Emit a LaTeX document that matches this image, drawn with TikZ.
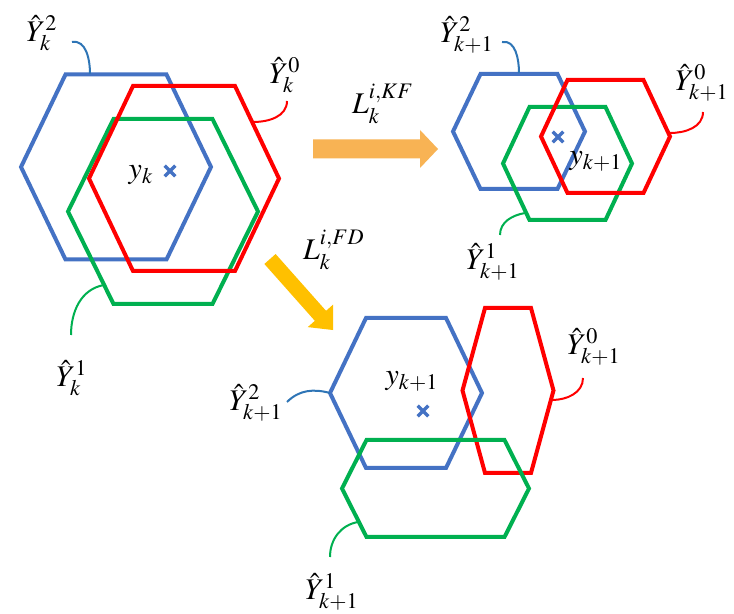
\documentclass[tikz,border=0pt]{standalone}
\usepackage{mathptmx}
\usepackage{tikz}
\usetikzlibrary{shapes.misc, positioning}

\definecolor{hexblue}{HTML}{4472C4}
\definecolor{hexred}{HTML}{FF0000}
\definecolor{hexgreen}{HTML}{00B050}
\definecolor{leadblue}{HTML}{2E75B6}
\definecolor{kforange}{HTML}{F8B354}
\definecolor{fdgold}{HTML}{FFC000}

% centre x, centre y, half width, half top edge, half height, colour
\newcommand{\hexset}[6]{%
  \draw[hex, draw=#6] ({#1-#3},{#2}) -- ({#1-#4},{#2+#5}) -- ({#1+#4},{#2+#5})
    -- ({#1+#3},{#2}) -- ({#1+#4},{#2-#5}) -- ({#1-#4},{#2-#5}) -- cycle;}

\begin{document}
\begin{tikzpicture}[x=0.5pt, y=0.5pt,
    hex/.style={line width=2pt, line join=miter},
    lead/.style={line width=1pt},
    lab/.style={inner sep=0pt, font=\fontsize{15}{18}\selectfont},
    xmark/.style={cross out, draw=hexblue, line width=1.7pt, minimum size=3.6pt, inner sep=0pt}
]
    \useasboundingbox[fill=white] (0,0) rectangle (734,-614);

    % Step k
    \hexset{116}{-167}{95}{50.5}{92.5}{hexblue}
    \hexset{163}{-211.5}{95}{49.5}{92.5}{hexgreen}
    \hexset{184}{-178.5}{95}{51}{92.5}{hexred}
    \node[xmark] (yk) at (170,-171) {};
    \node[lab] (yklab) at (141,-175) {$y_k$};
    \node[lab] (k2) at (42,-33) {$\hat{Y}_k^{2}$};
    \node[lab] (k0) at (285,-75) {$\hat{Y}_k^{0}$};
    \node[lab] (k1) at (72,-378) {$\hat{Y}_k^{1}$};
    \coordinate (k2a) at (72,-42);   \coordinate (k2b) at (90,-74);
    \coordinate (k0a) at (287,-101); \coordinate (k0b) at (253,-122);
    \coordinate (k1a) at (71,-335);  \coordinate (k1b) at (104,-285);
    \draw[lead, leadblue] (k2a) to[out=10, in=90] (k2b);
    \draw[lead, hexred] (k0a) to[out=-90, in=0] (k0b);
    \draw[lead, hexgreen] (k1a) to[out=90, in=190] (k1b);

    % Arrows
    \begin{scope}[shift={(313,-149)}]
        \fill[kforange] (0,9.5) -- (107,9.5) -- (107,19) -- (125,0) -- (107,-19) -- (107,-9.5) -- (0,-9.5) -- cycle;
    \end{scope}
    \begin{scope}[shift={(270,-259)}, rotate=-48.4]
        \fill[fdgold] (0,7.5) -- (76,7.5) -- (76,17) -- (95,0) -- (76,-17) -- (76,-7.5) -- (0,-7.5) -- cycle;
    \end{scope}
    \node[lab] (kf) at (383,-104) {$L_k^{i,KF}$};
    \node[lab] (fd) at (334,-250) {$L_k^{i,FD}$};

    % Step k+1, KF
    \hexset{519}{-131.5}{66}{38.5}{57.5}{hexblue}
    \hexset{567.5}{-163.5}{64.5}{38}{56.5}{hexgreen}
    \hexset{605.5}{-136.5}{64.5}{38}{56.5}{hexred}
    \node[xmark] (ykf) at (558,-137) {};
    \node[lab] (ykflab) at (596,-161) {$y_{k+1}$};
    \node[lab] (f2) at (467,-35) {$\hat{Y}_{k+1}^{2}$};
    \node[lab] (f0) at (702,-83) {$\hat{Y}_{k+1}^{0}$};
    \node[lab] (f1) at (493,-262) {$\hat{Y}_{k+1}^{1}$};
    \coordinate (f2a) at (502,-42);  \coordinate (f2b) at (519,-73);
    \coordinate (f0a) at (703,-112); \coordinate (f0b) at (670,-133);
    \coordinate (f1a) at (500,-235); \coordinate (f1b) at (525,-213);
    \draw[lead, leadblue] (f2a) to[out=10, in=90] (f2b);
    \draw[lead, hexred] (f0a) to[out=-90, in=0] (f0b);
    \draw[lead, hexgreen] (f1a) to[out=90, in=190] (f1b);

    % Step k+1, FD
    \hexset{406}{-393}{76}{40}{75}{hexblue}
    \hexset{508}{-390.5}{45.5}{23}{82.5}{hexred}
    \hexset{435.5}{-488.5}{93.5}{69}{48.5}{hexgreen}
    \node[xmark] (yfd) at (423,-411) {};
    \node[lab] (yfdlab) at (412,-381) {$y_{k+1}$};
    \node[lab] (d2) at (256,-403) {$\hat{Y}_{k+1}^{2}$};
    \node[lab] (d0) at (594,-347) {$\hat{Y}_{k+1}^{0}$};
    \node[lab] (d1) at (332,-592) {$\hat{Y}_{k+1}^{1}$};
    \coordinate (d2a) at (287,-402); \coordinate (d2b) at (330,-393);
    \coordinate (d0a) at (583,-378); \coordinate (d0b) at (552,-400);
    \coordinate (d1a) at (330,-557); \coordinate (d1b) at (358,-522);
    \draw[lead, leadblue] (d2a) to[out=45, in=165] (d2b);
    \draw[lead, hexred] (d0a) to[out=-90, in=0] (d0b);
    \draw[lead, hexgreen] (d1a) to[out=90, in=190] (d1b);
\end{tikzpicture}
\end{document}
